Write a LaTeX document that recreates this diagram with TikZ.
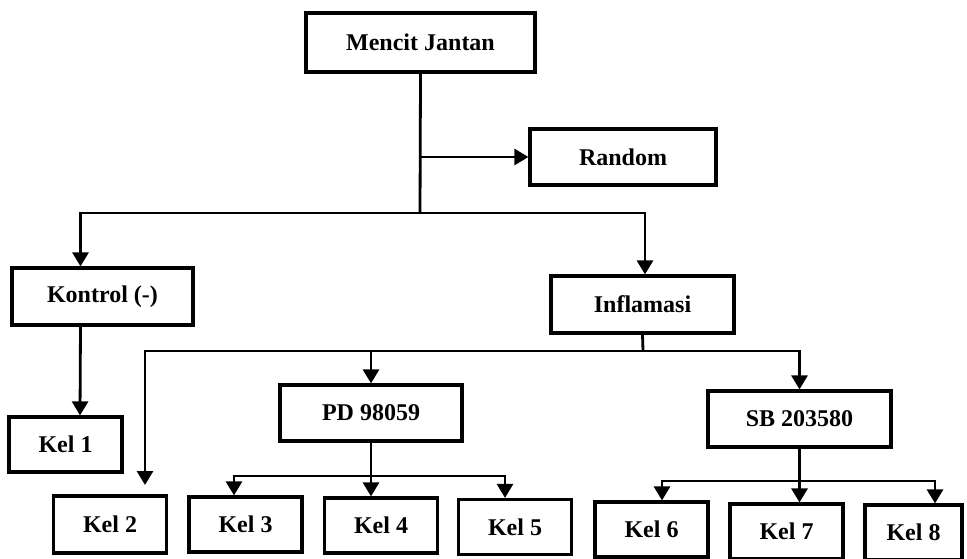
\documentclass[tikz,border=0pt]{standalone}
\usepackage{fontspec}
\setmainfont{Liberation Serif}
\usetikzlibrary{arrows.meta, calc}
\begin{document}
\begin{tikzpicture}[x=0.5pt, y=-0.5pt, >={Triangle[length=7pt, width=8pt]}, line width=1.4pt,
    box/.style={draw, line width=1.6pt, minimum height=28pt, inner sep=0pt,
      font=\bfseries\fontsize{12}{14}\selectfont},
    kel/.style={box, minimum width=56.5pt, minimum height=27.5pt}]
  \useasboundingbox (0,0) rectangle (967,558);
  \node[box, minimum width=114.5pt, minimum height=29.5pt] (mencit) at (420.5,42.5) {Mencit Jantan};
  \node[box, minimum width=93pt] (random) at (623,157) {Random};
  \node[box, minimum width=90.5pt, minimum height=28.5pt] (kontrol) at (102.5,296.5) {Kontrol (-)};
  \node[box, minimum width=91.5pt, minimum height=28.5pt] (inflamasi) at (642.5,304.5) {Inflamasi};
  \node[box, minimum width=91pt] (pd) at (371,413) {PD 98059};
  \node[box, minimum width=91.5pt] (sb) at (799.5,419) {SB 203580};
  \node[kel] (kel1) at (65.5,444.5) {Kel 1};
  \node[kel, minimum height=28.5pt] (kel2) at (110,524.5) {Kel 2};
  \node[kel] (kel3) at (245.5,524.5) {Kel 3};
  \node[kel] (kel4) at (381,525.5) {Kel 4};
  \node[kel] (kel5) at (515,527) {Kel 5};
  \node[kel] (kel6) at (651.5,529.5) {Kel 6};
  \node[kel] (kel7) at (786.5,531.5) {Kel 7};
  \node[kel, minimum width=48.5pt] (kel8) at (913.5,532.5) {Kel 8};

  \coordinate (split1) at (420,213);
  \draw (mencit.south) -- (split1);
  \draw[->] (mencit.south |- random.west) -- (random.west);
  \draw[->] (split1) -| ($(kontrol.north)+(-22,0)$);
  \draw[->] (split1) -| ($(inflamasi.north)+(2.5,0)$);
  \draw[->] ($(kontrol.south)+(-22,0)$) -- ($(kel1.north)+(14.5,0)$);

  \coordinate (split2) at (643,351);
  \coordinate (kel2in) at (145,485);
  \draw (inflamasi.south) -- (split2);
  \draw[->] (split2) -| (kel2in);
  \draw[->] (split2 -| pd.north) -- (pd.north);
  \draw[->] (split2) -| (sb.north);

  \coordinate (split3) at (371,476);
  \draw[->] (pd.south) -- (pd.south |- kel4.north);
  \draw[->] (split3) -| ($(kel3.north)+(-11.5,0)$);
  \draw[->] (split3) -| ($(kel5.north)+(-10,0)$);

  \coordinate (split4) at (799.5,481);
  \draw[->] (sb.south) -- (sb.south |- kel7.north);
  \draw[->] (split4) -| ($(kel6.north)+(10.5,0)$);
  \draw[->] (split4) -| ($(kel8.north)+(21.5,0)$);
\end{tikzpicture}
\end{document}
